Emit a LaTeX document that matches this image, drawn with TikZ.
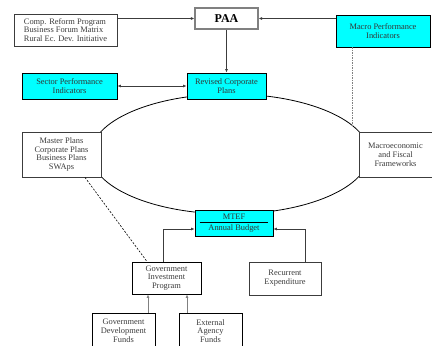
\documentclass[tikz,border=0pt]{standalone}
\usepackage{fontspec}
\setmainfont{Liberation Serif}
\usetikzlibrary{arrows.meta, positioning, calc}
\definecolor{boxcyan}{RGB}{0,255,255}
\definecolor{inkgray}{RGB}{60,60,60}

\begin{document}
\begin{tikzpicture}[x=1pt, y=-1pt,
  box/.style={draw=inkgray, line width=0.9pt, fill=white, text=inkgray, align=center,
    inner sep=1pt, font=\fontsize{8.4}{8.8}\selectfont},
  hibox/.style={box, draw=black, fill=boxcyan, text=black!80},
  link/.style={-{Latex[length=3.5pt,width=3pt]}, line width=0.8pt, draw=inkgray},
  twoway/.style={link, {Latex[length=3.5pt,width=3pt]}-{Latex[length=3.5pt,width=3pt]}}]
  \useasboundingbox (0,0) rectangle (432,346);
  % planning cycle behind the boxes
  \draw[line width=0.8pt] (230,154) ellipse [x radius=139, y radius=60];

  \node[box, minimum width=103pt, minimum height=32pt, align=left] (reform) at (65.5,30)
    {Comp. Reform Program\\Business Forum Matrix\\Rural Ec. Dev. Initiative};
  \node[box, draw=gray, line width=1.2pt, minimum width=63pt, minimum height=21pt, text=black,
    font=\bfseries\fontsize{12}{12}\selectfont] (paa) at (226.5,18.5) {PAA};
  \node[hibox, minimum width=94pt, minimum height=32pt] (macro) at (383,31) {Macro Performance\\Indicators};
  \node[hibox, minimum width=95pt, minimum height=26pt] (sector) at (69.5,86) {Sector Performance\\Indicators};
  \node[hibox, minimum width=79pt, minimum height=26pt] (revised) at (226.5,86) {Revised Corporate\\Plans};
  \node[box, minimum width=79pt, minimum height=45pt] (master) at (61.5,154.5)
    {Master Plans\\Corporate Plans\\Business Plans\\SWAps};
  \node[box, minimum width=73pt, minimum height=45pt] (macroeco) at (395.5,154.5)
    {Macroeconomic\\and Fiscal\\Frameworks};
  \node[hibox, minimum width=78pt, minimum height=26pt] (mtef) at (234,223) {MTEF\\[2pt]Annual Budget};
  \node[box, draw=black, minimum width=69pt, minimum height=32pt] (gip) at (166.5,278)
    {Government\\Investment\\Program};
  \node[box, minimum width=72pt, minimum height=33pt] (recur) at (285,278.5) {Recurrent\\Expenditure};
  \node[box, draw=black, minimum width=63pt, minimum height=36pt] (gdf) at (123.5,331)
    {Government\\Development\\Funds};
  \node[box, draw=black, minimum width=63pt, minimum height=36pt] (eaf) at (210.5,331)
    {External\\Agency\\Funds};

  % rule inside the budget box
  \draw[line width=0.8pt] ([xshift=5pt,yshift=1pt]mtef.west) -- ([xshift=-5pt,yshift=1pt]mtef.east);

  \draw[link] (reform.east |- paa.west) -- (paa.west);
  \draw[link] (macro.west |- paa.east) -- (paa.east);
  \draw[link] (paa.south) -- (revised.north);
  \draw[twoway] (sector.east) -- (revised.west);

  \coordinate (ring) at (352,125);
  \draw[gray, line width=1pt, dash pattern=on 1.5pt off 1pt] ([xshift=-31pt]macro.south) -- (ring);
  \draw[line width=0.6pt, dash pattern=on 2pt off 1.5pt] ([xshift=23.5pt]master.south) -- ([xshift=-19.5pt]gip.north);

  \draw[link] ([xshift=-3.5pt]gip.north) |- ([yshift=-6pt]mtef.west);
  \draw[link] ([xshift=20pt]recur.north) |- ([yshift=-6pt]mtef.east);
  \draw[link, draw=gray] ([xshift=24.5pt]gdf.north) -- ([xshift=-18.5pt]gip.south);
  \draw[link, draw=gray] ([xshift=-23.5pt]eaf.north) -- ([xshift=20.5pt]gip.south);
\end{tikzpicture}
\end{document}
